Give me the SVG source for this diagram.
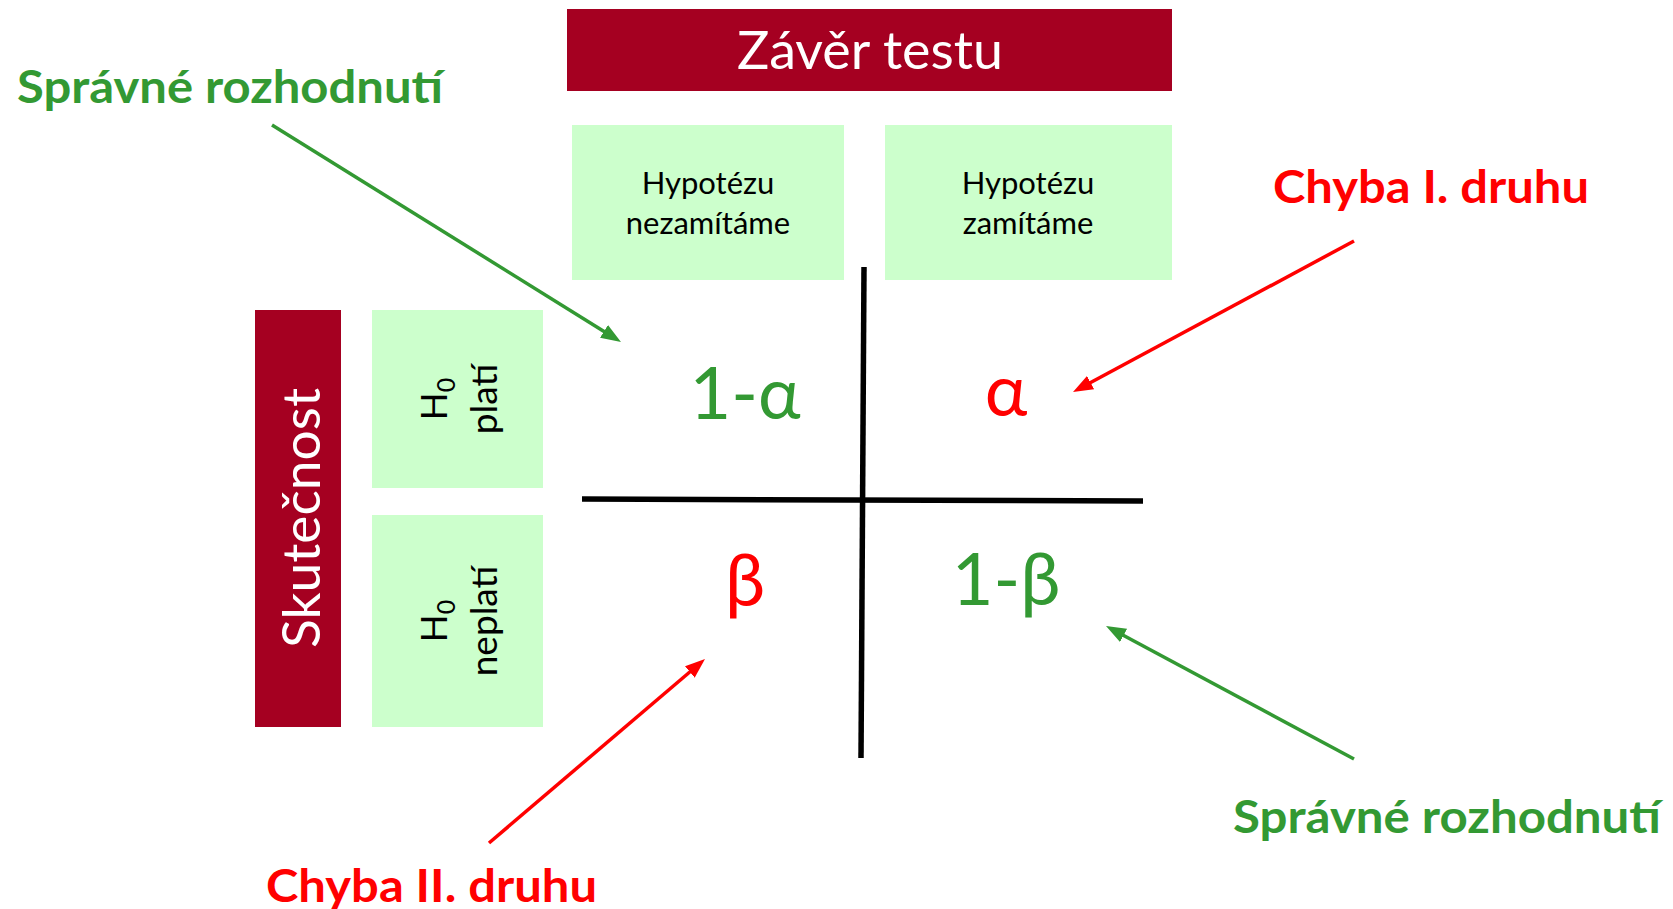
<svg xmlns="http://www.w3.org/2000/svg" width="1673" height="909" viewBox="0 0 1673 909">
  <style>
    .hdr { fill: #A50021; }
    .cell { fill: #CCFFCC; }
    .ttl { font-family: Lato, "Open Sans", sans-serif; fill: #FFFFFF; }
    .lbl { font-family: Lato, "Open Sans", sans-serif; fill: #000000; }
    .val { font-family: Lato, "Open Sans", "DejaVu Sans", sans-serif; font-size: 72px; text-anchor: middle; }
    .note { font-family: Lato, "Open Sans", sans-serif; font-weight: bold; font-size: 46px; }
    .green { fill: #339933; }
    .red { fill: #FF0000; }
    .axis { stroke: #000000; stroke-width: 5.5; fill: none; }
    .arr-g { stroke: #339933; stroke-width: 3.5; fill: none; marker-end: url(#headG); }
    .arr-r { stroke: #FF0000; stroke-width: 3.5; fill: none; marker-end: url(#headR); }
  </style>
  <defs>
    <marker id="headG" viewBox="0 0 20 15" markerWidth="20" markerHeight="15" refX="10" refY="7.5" orient="auto" markerUnits="userSpaceOnUse">
      <path d="M0,0 L20,7.5 L0,15 z" fill="#339933"/>
    </marker>
    <marker id="headR" viewBox="0 0 20 15" markerWidth="20" markerHeight="15" refX="10" refY="7.5" orient="auto" markerUnits="userSpaceOnUse">
      <path d="M0,0 L20,7.5 L0,15 z" fill="#FF0000"/>
    </marker>
  </defs>

  <rect width="1673" height="909" fill="#FFFFFF"/>

  <!-- column header: test decision -->
  <g id="zaver-testu">
    <rect class="hdr" x="567" y="9" width="605" height="82"/>
    <text class="ttl" x="870" y="69" font-size="52" text-anchor="middle" textLength="266" lengthAdjust="spacingAndGlyphs">Závěr testu</text>
  </g>
  <g id="nezamitame">
    <rect class="cell" x="572" y="125" width="272" height="155"/>
    <text class="lbl" x="708" y="194" font-size="31" text-anchor="middle">Hypotézu</text>
    <text class="lbl" x="708" y="234" font-size="31" text-anchor="middle">nezamítáme</text>
  </g>
  <g id="zamitame">
    <rect class="cell" x="885" y="125" width="287" height="155"/>
    <text class="lbl" x="1028" y="194" font-size="31" text-anchor="middle">Hypotézu</text>
    <text class="lbl" x="1028" y="234" font-size="31" text-anchor="middle">zamítáme</text>
  </g>

  <!-- row header: reality -->
  <g id="skutecnost">
    <rect class="hdr" x="255" y="310" width="86" height="417"/>
    <text class="ttl" transform="translate(298,518) rotate(-90)" x="0" y="22" font-size="53" text-anchor="middle" textLength="260" lengthAdjust="spacingAndGlyphs">Skutečnost</text>
  </g>
  <g id="h0-plati">
    <rect class="cell" x="372" y="310" width="171" height="178"/>
    <g transform="translate(457,399) rotate(-90)">
      <text class="lbl" x="0" y="-10" font-size="37" text-anchor="middle">H<tspan font-size="25" dy="8">0</tspan></text>
      <text class="lbl" x="0" y="40" font-size="37" text-anchor="middle">platí</text>
    </g>
  </g>
  <g id="h0-neplati">
    <rect class="cell" x="372" y="515" width="171" height="212"/>
    <g transform="translate(457,621) rotate(-90)">
      <text class="lbl" x="0" y="-10" font-size="37" text-anchor="middle">H<tspan font-size="25" dy="8">0</tspan></text>
      <text class="lbl" x="0" y="40" font-size="37" text-anchor="middle">neplatí</text>
    </g>
  </g>

  <!-- decision table cross -->
  <g id="cross">
    <line class="axis" x1="864" y1="267" x2="861" y2="758"/>
    <line class="axis" x1="582" y1="499" x2="1143" y2="501"/>
  </g>

  <!-- probabilities in the four cells -->
  <g id="cell-1-alpha"><text class="val green" x="745" y="419">1-α</text></g>
  <g id="cell-alpha"><text class="val red" x="1006" y="416">α</text></g>
  <g id="cell-beta"><text class="val red" x="745" y="606">β</text></g>
  <g id="cell-1-beta"><text class="val green" x="1006" y="605">1-β</text></g>

  <!-- annotations -->
  <g id="note-spravne-1"><text class="note green" x="17" y="103" textLength="426" lengthAdjust="spacingAndGlyphs">Správné rozhodnutí</text></g>
  <g id="note-chyba-1"><text class="note red" x="1273" y="203" textLength="316" lengthAdjust="spacingAndGlyphs">Chyba I. druhu</text></g>
  <g id="note-spravne-2"><text class="note green" x="1233" y="833" textLength="428" lengthAdjust="spacingAndGlyphs">Správné rozhodnutí</text></g>
  <g id="note-chyba-2"><text class="note red" x="266" y="902" textLength="331" lengthAdjust="spacingAndGlyphs">Chyba II. druhu</text></g>

  <!-- annotation arrows -->
  <g id="connectors">
    <line class="arr-g" x1="272" y1="125" x2="612.5" y2="336.7"/>
    <line class="arr-r" x1="1354" y1="241" x2="1081.8" y2="387.3"/>
    <line class="arr-r" x1="489" y1="843" x2="697.4" y2="665.5"/>
    <line class="arr-g" x1="1354" y1="759" x2="1114.8" y2="630.7"/>
  </g>
</svg>
